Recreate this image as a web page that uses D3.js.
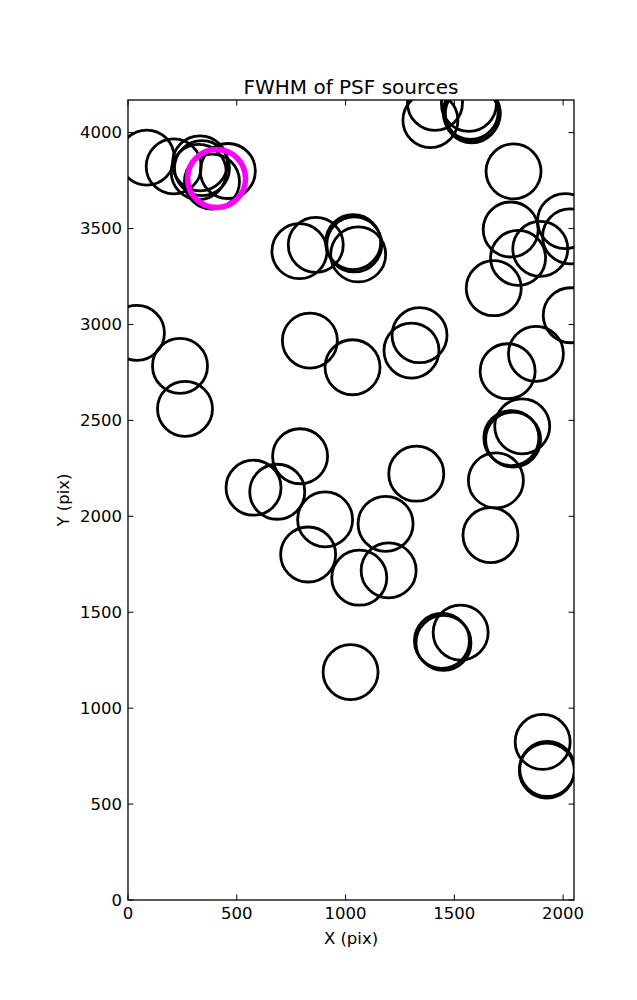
<!DOCTYPE html>
<html><head><meta charset="utf-8">
<script src="https://cdn.jsdelivr.net/npm/d3@7"></script>
<style>body{margin:0;background:#fff}svg{display:block}text{font-family:"DejaVu Sans",sans-serif;fill:#000}</style>
</head><body><div id="chart"></div>
<script>
// Source positions (pixel coordinates on the detector)
const srcX = [86,210,331,340,325,386,459,1390,1411,1567,1575,1585,1580,1772,1759,2009,2032,1895,1793,1681,2035,1875,1745,1812,1762,1770,1691,1666,41,239,262,836,1032,1340,1303,791,577,686,906,828,1063,1184,1198,1325,1443,1450,1529,1023,1906,1927,1925,788,863,1035,1040,1058];
const srcY = [3870,3824,3840,3815,3795,3745,3800,4065,4155,4150,4108,4100,4090,3798,3495,3539,3459,3394,3347,3189,3048,2847,2756,2469,2408,2400,2187,1902,2956,2784,2560,2916,2777,2944,2864,2313,2149,2128,1984,1801,1680,1961,1718,2222,1351,1340,1394,1188,824,683,675,3382,3415,3429,3417,3365];
// Highlighted source
const hiX = [407];
const hiY = [3761];
const xTicks = [0,500,1000,1500,2000];
const yTicks = [0,500,1000,1500,2000,2500,3000,3500,4000];

const W=637,H=1000;
const L=128,R=574,T=100,B=900;
const x=d3.scaleLinear().domain([0,2050]).range([L,R]);
const y=d3.scaleLinear().domain([0,4170]).range([B,T]);

const svg=d3.select("#chart").append("svg").attr("width",W).attr("height",H);
svg.append("defs").append("clipPath").attr("id","clip").append("rect")
  .attr("x",L).attr("y",T).attr("width",R-L).attr("height",B-T);

const g=svg.append("g").attr("clip-path","url(#clip)");
g.selectAll("circle.src").data(srcX.map((v,i)=>[v,srcY[i]])).enter().append("circle")
  .attr("class","src").attr("cx",d=>x(d[0])).attr("cy",d=>y(d[1])).attr("r",27.5)
  .attr("fill","none").attr("stroke","#000").attr("stroke-width",2.8);
g.selectAll("circle.hi").data(hiX.map((v,i)=>[v,hiY[i]])).enter().append("circle")
  .attr("class","hi").attr("cx",d=>x(d[0])).attr("cy",d=>y(d[1])).attr("r",29)
  .attr("fill","none").attr("stroke","#ff00ff").attr("stroke-width",5.5);

// axes: ticks inward on all sides
const fs=16.5, tl=5.5;
const ax=svg.append("g");
ax.append("rect").attr("x",L).attr("y",T).attr("width",R-L).attr("height",B-T)
  .attr("fill","none").attr("stroke","#000").attr("stroke-width",1.3);
xTicks.forEach(t=>{
  const px=x(t);
  ax.append("line").attr("x1",px).attr("x2",px).attr("y1",B).attr("y2",B-tl).attr("stroke","#000");
  ax.append("line").attr("x1",px).attr("x2",px).attr("y1",T).attr("y2",T+tl).attr("stroke","#000");
  ax.append("text").attr("x",px).attr("y",B+19).attr("text-anchor","middle").attr("font-size",fs).text(t);
});
yTicks.forEach(t=>{
  const py=y(t);
  ax.append("line").attr("x1",L).attr("x2",L+tl).attr("y1",py).attr("y2",py).attr("stroke","#000");
  ax.append("line").attr("x1",R).attr("x2",R-tl).attr("y1",py).attr("y2",py).attr("stroke","#000");
  ax.append("text").attr("x",L-6).attr("y",py).attr("dy","0.35em").attr("text-anchor","end").attr("font-size",fs).text(t);
});
svg.append("text").attr("x",(L+R)/2).attr("y",94).attr("text-anchor","middle").attr("font-size",20).text("FWHM of PSF sources");
svg.append("text").attr("x",(L+R)/2).attr("y",944).attr("text-anchor","middle").attr("font-size",fs).text("X (pix)");
svg.append("text").attr("transform",`translate(69,${(T+B)/2}) rotate(-90)`).attr("text-anchor","middle").attr("font-size",fs).text("Y (pix)");
</script></body></html>
